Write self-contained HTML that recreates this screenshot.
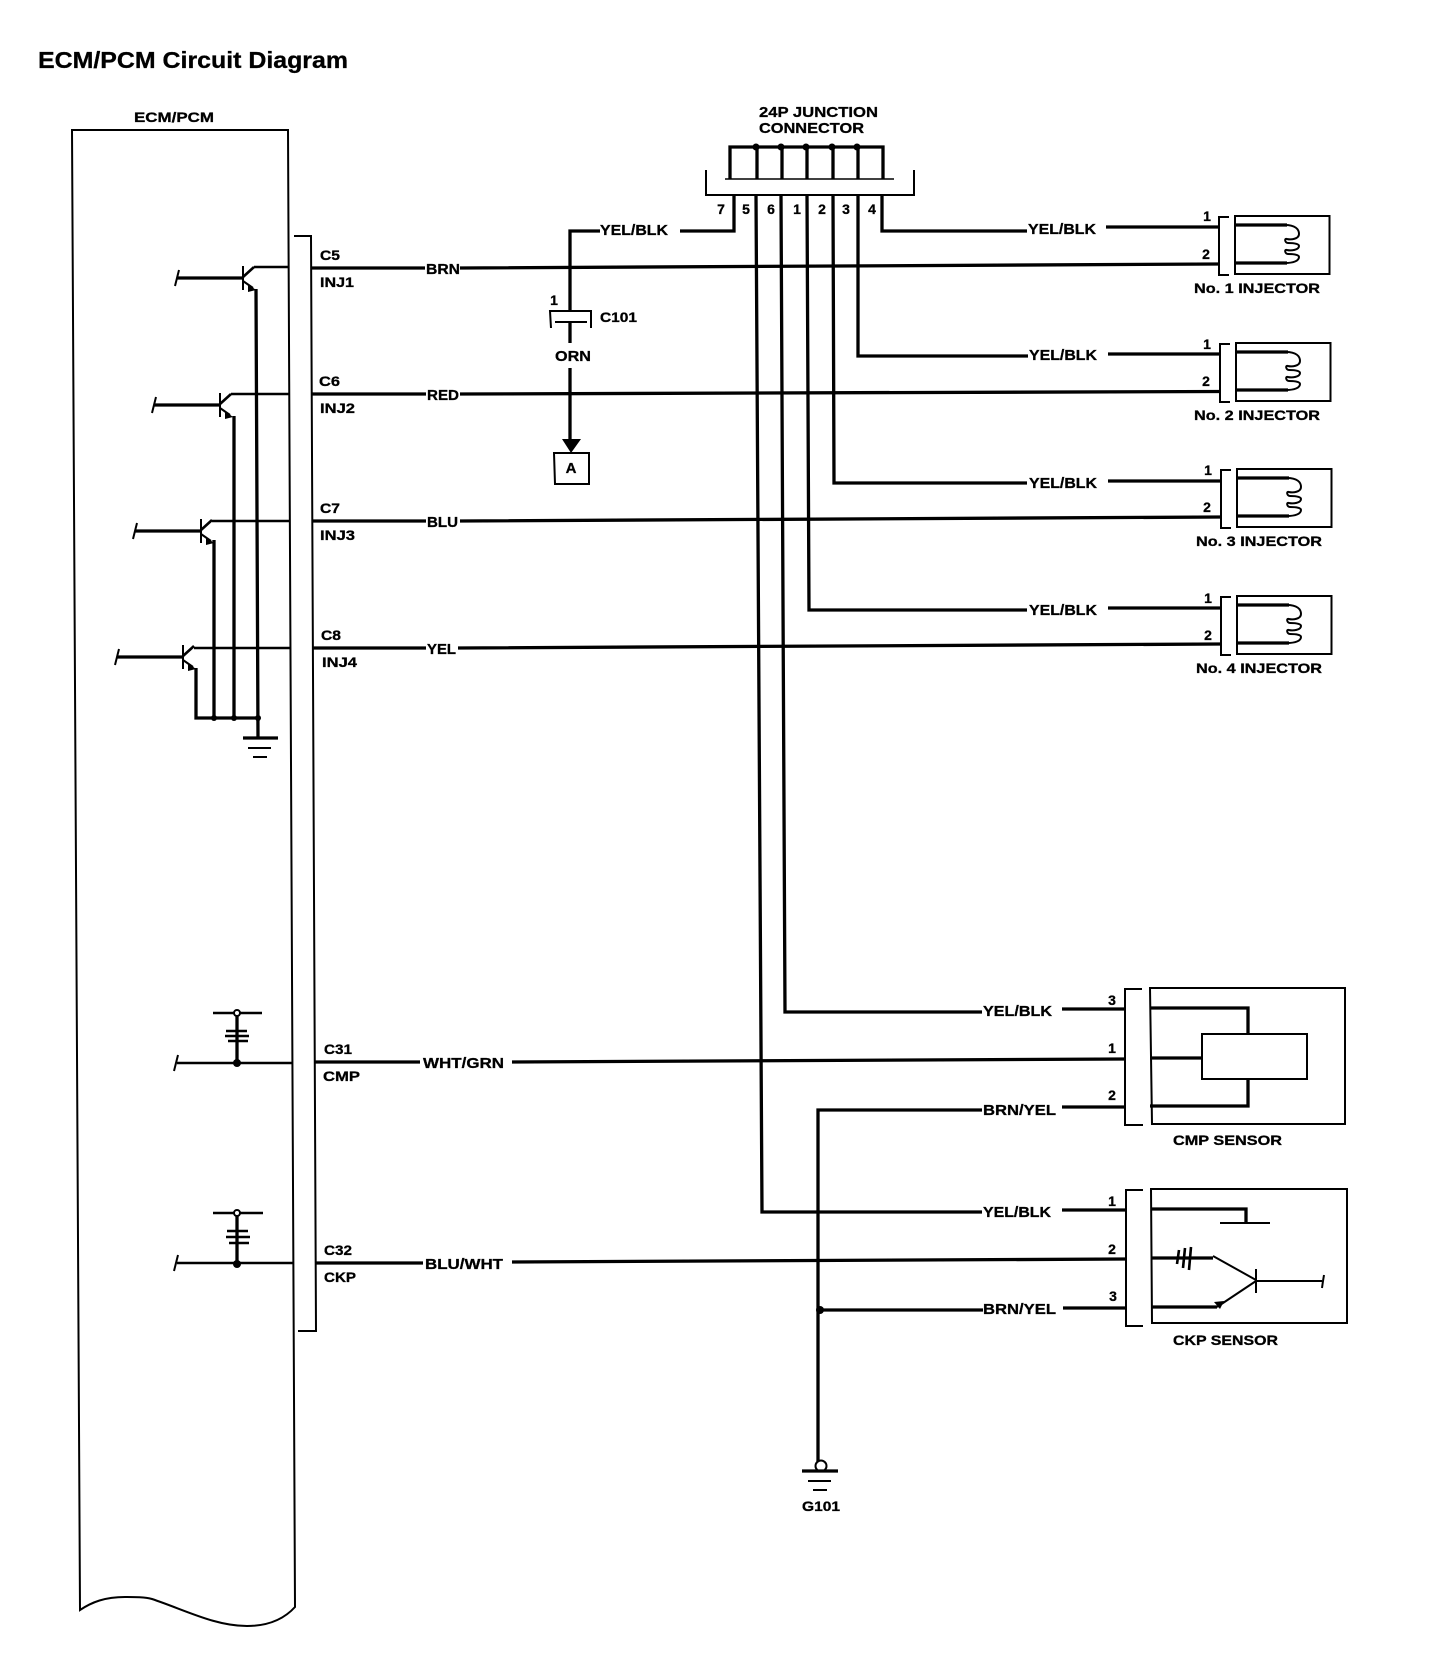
<!DOCTYPE html>
<html>
<head>
<meta charset="utf-8">
<title>ECM/PCM Circuit Diagram</title>
<style>
html,body{margin:0;padding:0;background:#fff;width:1440px;height:1670px;overflow:hidden}
svg{display:block}
text{font-family:"Liberation Sans",Arial,sans-serif;font-weight:bold;fill:#000;stroke:#000;stroke-width:.3}
.n{text-anchor:middle;font-size:14px}
.t{fill:none;stroke:#000;stroke-width:2}
.w{fill:none;stroke:#000;stroke-width:3.3}
.c{fill:none;stroke:#000;stroke-width:2.6}
</style>
</head>
<body>
<svg width="1440" height="1670" viewBox="0 0 1440 1670" xmlns="http://www.w3.org/2000/svg">
<defs>
<g id="inj">
<path class="t" d="M-6 1H-16V59H-6"/>
<path class="t" d="M0 0H94.5V58H0Z"/>
<path class="w" d="M1 9H52M1 47H52"/>
<path class="t" d="M50 9C60 9 64 13 64 18C64 23 56 24 52 23C49 22 50 27 53 27C60 27 64 28 64 30C64 34 56 35 52 34C49 33 50 38 53 38C60 38 64 39 64 41C64 45 58 47 50 47"/>
</g>
<g id="tr">
<path class="w" d="M0 0H66"/>
<path class="t" d="M2 -8L0 0L-2 8M66 -12V12"/>
<path class="c" d="M66 -1L77 -11"/>
<path class="t" d="M66 3L76 10"/>
<path d="M71 6L79 12L71 14Z" fill="#000"/>
</g>
</defs>

<!-- titles -->
<text x="38" y="68" font-size="23" textLength="310" lengthAdjust="spacingAndGlyphs">ECM/PCM Circuit Diagram</text>
<text x="134" y="122" font-size="14" textLength="80" lengthAdjust="spacingAndGlyphs">ECM/PCM</text>

<!-- ECM body and connector strip -->
<path class="t" d="M72 130H288L295 1607C285 1618 270 1626 247 1626C215 1626 185 1610 152 1599C145 1597 135 1597 125 1597C105 1597 92 1602 80 1610Z"/>
<path class="t" d="M294 236H311L316 1331H298"/>

<!-- transistors -->
<use href="#tr" x="177" y="278"/>
<use href="#tr" x="154" y="405"/>
<use href="#tr" x="135" y="531"/>
<use href="#tr" x="117" y="657"/>
<path class="c" d="M254 267H289M231 394H289M212 521H290M194 648H290"/>
<path class="w" d="M256 289L258 738M234 416L234 718M214 540V718M196 668V718H258"/>
<circle cx="214" cy="718" r="3"/><circle cx="234" cy="718" r="3"/><circle cx="258" cy="718" r="3"/>
<path class="w" d="M243 738H278"/>
<path class="t" d="M248 748H271M253 757H267"/>

<!-- INJ labels -->
<text x="320" y="260" font-size="14" textLength="20" lengthAdjust="spacingAndGlyphs">C5</text>
<text x="320" y="287" font-size="14" textLength="34" lengthAdjust="spacingAndGlyphs">INJ1</text>
<text x="319" y="386" font-size="14" textLength="21" lengthAdjust="spacingAndGlyphs">C6</text>
<text x="320" y="413" font-size="14" textLength="35" lengthAdjust="spacingAndGlyphs">INJ2</text>
<text x="320" y="513" font-size="14" textLength="20" lengthAdjust="spacingAndGlyphs">C7</text>
<text x="320" y="540" font-size="14" textLength="35" lengthAdjust="spacingAndGlyphs">INJ3</text>
<text x="321" y="640" font-size="14" textLength="20" lengthAdjust="spacingAndGlyphs">C8</text>
<text x="322" y="667" font-size="14" textLength="35" lengthAdjust="spacingAndGlyphs">INJ4</text>

<!-- signal wires -->
<path class="w" d="M312 268H425M460 268L1220 264"/>
<path class="w" d="M312 394H426M460 394L1221 391.5"/>
<path class="w" d="M312 521H426M460 521L1222 517"/>
<path class="w" d="M312 648H426M458 648L1222 644"/>
<text x="426" y="274" font-size="15" textLength="34" lengthAdjust="spacingAndGlyphs">BRN</text>
<text x="427" y="400" font-size="15" textLength="32" lengthAdjust="spacingAndGlyphs">RED</text>
<text x="427" y="527" font-size="15" textLength="31" lengthAdjust="spacingAndGlyphs">BLU</text>
<text x="427" y="654" font-size="15" textLength="29" lengthAdjust="spacingAndGlyphs">YEL</text>

<!-- C101 branch -->
<path class="w" d="M600 231H570V311"/>
<text x="600" y="235" font-size="15" textLength="68" lengthAdjust="spacingAndGlyphs">YEL/BLK</text>
<path class="w" d="M680 231H734V195"/>
<path class="t" d="M551 328L550 311H591V328"/>
<path class="t" d="M555 322H587"/>
<path class="w" d="M570 322V343M570 368V442"/>
<text x="554" y="305" class="n">1</text>
<text x="600" y="322" font-size="14" textLength="37" lengthAdjust="spacingAndGlyphs">C101</text>
<text x="555" y="361" font-size="15" textLength="36" lengthAdjust="spacingAndGlyphs">ORN</text>
<path d="M562 439H581L571 453Z" fill="#000"/>
<path class="t" d="M554 453H589V484H555Z"/>
<text x="571" y="473" font-size="15" text-anchor="middle">A</text>

<!-- 24P junction -->
<text x="759" y="117" font-size="15" textLength="119" lengthAdjust="spacingAndGlyphs">24P JUNCTION</text>
<text x="759" y="133" font-size="15" textLength="105" lengthAdjust="spacingAndGlyphs">CONNECTOR</text>
<path class="w" d="M730 179V147H883V179"/>
<path class="w" d="M757 147V179M782 147V179M807 147V179M833 147V179M858 147V179"/>
<circle cx="756" cy="147" r="3.5"/><circle cx="781" cy="147" r="3.5"/><circle cx="806" cy="147" r="3.5"/><circle cx="832" cy="147" r="3.5"/><circle cx="857" cy="147" r="3.5"/>
<path class="t" d="M706 170V195H914V170"/>
<path d="M725 179H894" stroke="#000" stroke-width="1.5" fill="none"/>
<text class="n" x="721" y="214">7</text>
<text class="n" x="746" y="214">5</text>
<text class="n" x="771" y="214">6</text>
<text class="n" x="797" y="214">1</text>
<text class="n" x="822" y="214">2</text>
<text class="n" x="846" y="214">3</text>
<text class="n" x="872" y="214">4</text>

<!-- harness verticals -->
<path class="w" d="M756 195L762 1212H982"/>
<path class="w" d="M781 195L785 1012H982"/>
<path class="w" d="M807 195L809 610H1027"/>
<path class="w" d="M833 195L834 483H1027"/>
<path class="w" d="M858 195V356H1028"/>
<path class="w" d="M882 195V231H1027"/>

<!-- YEL/BLK to injectors -->
<path class="w" d="M1106 227H1218M1108 354H1220M1108 481H1222M1108 608H1222"/>
<text x="1028" y="234" font-size="15" textLength="68" lengthAdjust="spacingAndGlyphs">YEL/BLK</text>
<text x="1029" y="360" font-size="15" textLength="68" lengthAdjust="spacingAndGlyphs">YEL/BLK</text>
<text x="1029" y="488" font-size="15" textLength="68" lengthAdjust="spacingAndGlyphs">YEL/BLK</text>
<text x="1029" y="615" font-size="15" textLength="68" lengthAdjust="spacingAndGlyphs">YEL/BLK</text>

<!-- injectors -->
<use href="#inj" x="1235" y="216"/>
<use href="#inj" x="1236" y="343"/>
<use href="#inj" x="1237" y="469"/>
<use href="#inj" x="1237" y="596"/>
<text class="n" x="1207" y="221">1</text><text class="n" x="1206" y="259">2</text>
<text class="n" x="1207" y="349">1</text><text class="n" x="1206" y="386">2</text>
<text class="n" x="1208" y="475">1</text><text class="n" x="1207" y="512">2</text>
<text class="n" x="1208" y="603">1</text><text class="n" x="1208" y="640">2</text>
<text x="1194" y="293" font-size="14" textLength="126" lengthAdjust="spacingAndGlyphs">No. 1 INJECTOR</text>
<text x="1194" y="420" font-size="14" textLength="126" lengthAdjust="spacingAndGlyphs">No. 2 INJECTOR</text>
<text x="1196" y="546" font-size="14" textLength="126" lengthAdjust="spacingAndGlyphs">No. 3 INJECTOR</text>
<text x="1196" y="673" font-size="14" textLength="126" lengthAdjust="spacingAndGlyphs">No. 4 INJECTOR</text>

<!-- CMP / CKP ECM side circuits -->
<path class="c" d="M177 1063H292"/>
<path class="t" d="M178 1055L176 1063L174 1071"/>
<path class="w" d="M237 1063V1016"/>
<path class="c" d="M213 1013H234M240 1013H262"/>
<circle cx="237" cy="1013" r="3" fill="#fff" stroke="#000" stroke-width="2"/>
<circle cx="237" cy="1063" r="4"/>
<path class="c" d="M226 1031H247M225 1036H249M228 1041H248"/>
<path class="c" d="M177 1263H293"/>
<path class="t" d="M178 1255L176 1263L174 1271"/>
<path class="w" d="M237 1263V1216"/>
<path class="c" d="M213 1213H234M240 1213H263"/>
<circle cx="237" cy="1213" r="3" fill="#fff" stroke="#000" stroke-width="2"/>
<circle cx="237" cy="1264" r="4"/>
<path class="c" d="M227 1231H248M226 1237H250M229 1243H249"/>

<text x="324" y="1054" font-size="14" textLength="28" lengthAdjust="spacingAndGlyphs">C31</text>
<text x="323" y="1081" font-size="14" textLength="37" lengthAdjust="spacingAndGlyphs">CMP</text>
<text x="324" y="1255" font-size="14" textLength="28" lengthAdjust="spacingAndGlyphs">C32</text>
<text x="324" y="1282" font-size="14" textLength="32" lengthAdjust="spacingAndGlyphs">CKP</text>

<path class="w" d="M315 1062H420M512 1062L1125 1059"/>
<text x="423" y="1068" font-size="15" textLength="81" lengthAdjust="spacingAndGlyphs">WHT/GRN</text>
<path class="w" d="M316 1263H423M512 1262L1126 1259"/>
<text x="425" y="1269" font-size="15" textLength="78" lengthAdjust="spacingAndGlyphs">BLU/WHT</text>

<!-- CMP sensor -->
<path class="w" d="M1062 1009H1125M1062 1107H1125"/>
<path class="w" d="M982 1110H818V1462"/>
<path class="w" d="M820 1310H983"/>
<circle cx="820" cy="1310" r="4"/>
<text x="983" y="1016" font-size="15" textLength="69" lengthAdjust="spacingAndGlyphs">YEL/BLK</text>
<text x="983" y="1115" font-size="15" textLength="73" lengthAdjust="spacingAndGlyphs">BRN/YEL</text>
<path class="t" d="M1142 989H1125V1125H1143"/>
<path class="t" d="M1150 988H1345V1124H1152Z"/>
<path class="t" d="M1202 1034H1307V1079H1202Z"/>
<path class="w" d="M1150 1008H1248V1034M1150 1058H1202M1150 1106H1248V1079"/>
<text class="n" x="1112" y="1005">3</text>
<text class="n" x="1112" y="1053">1</text>
<text class="n" x="1112" y="1100">2</text>
<text x="1173" y="1145" font-size="14" textLength="109" lengthAdjust="spacingAndGlyphs">CMP SENSOR</text>

<!-- CKP sensor -->
<path class="w" d="M1062 1210H1126M1063 1308H1126"/>
<text x="983" y="1217" font-size="15" textLength="68" lengthAdjust="spacingAndGlyphs">YEL/BLK</text>
<text x="983" y="1314" font-size="15" textLength="73" lengthAdjust="spacingAndGlyphs">BRN/YEL</text>
<path class="t" d="M1143 1190H1126V1326H1143"/>
<path class="t" d="M1151 1189H1347V1323H1152Z"/>
<path class="w" d="M1151 1209H1246V1223"/>
<path class="t" d="M1220 1223H1270"/>
<path class="w" d="M1151 1258H1213"/>
<path class="t" d="M1213 1256L1256 1280M1256 1269V1293M1256 1281H1322M1324 1275L1323 1281L1322 1288"/>
<path class="w" d="M1151 1307H1217"/>
<path class="t" d="M1217 1307L1256 1281"/>
<path d="M1214 1302L1224 1301L1220 1309Z" fill="#000"/>
<path class="c" d="M1179 1250L1177 1264M1185 1248L1183 1268M1191 1247L1189 1270"/>
<text class="n" x="1112" y="1206">1</text>
<text class="n" x="1112" y="1254">2</text>
<text class="n" x="1113" y="1301">3</text>
<text x="1173" y="1345" font-size="14" textLength="105" lengthAdjust="spacingAndGlyphs">CKP SENSOR</text>

<!-- G101 -->
<circle cx="821" cy="1466" r="5.5" fill="#fff" stroke="#000" stroke-width="2"/>
<path class="w" d="M802 1471H838"/>
<path class="t" d="M808 1481H831M813 1490H827"/>
<text x="802" y="1511" font-size="14" textLength="38" lengthAdjust="spacingAndGlyphs">G101</text>
</svg>
</body>
</html>
